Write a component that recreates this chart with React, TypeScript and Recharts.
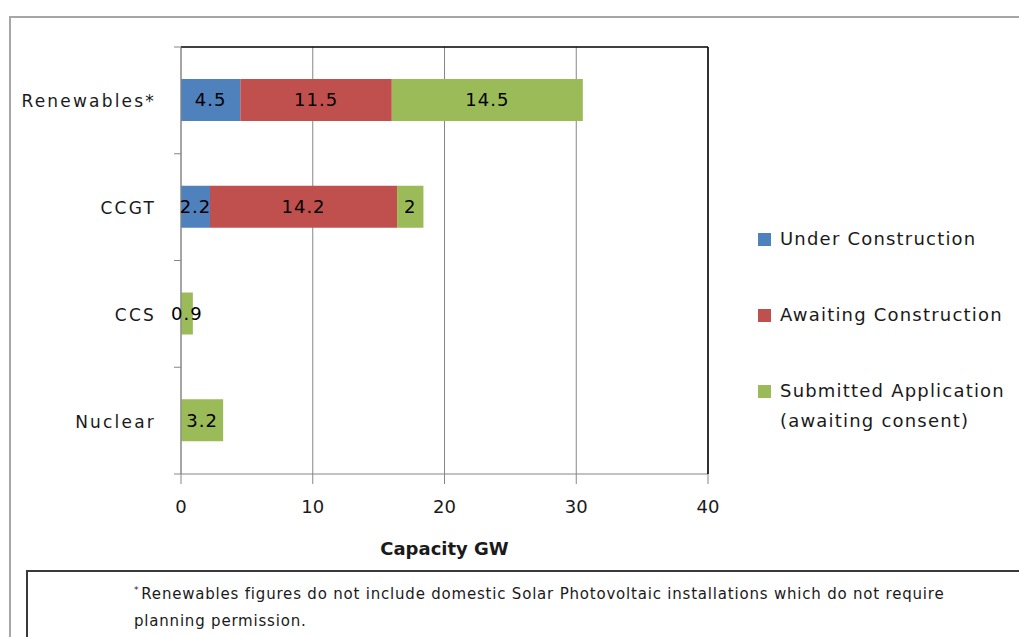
import React from 'react';
import { BarChart, Bar, XAxis, YAxis, CartesianGrid, LabelList } from 'recharts';

// values (GW)
const categories = ['Renewables*', 'CCGT', 'CCS', 'Nuclear'];
const underConstruction = [4.5, 2.2, 0, 0];
const awaitingConstruction = [11.5, 14.2, 0, 0];
const submittedApplication = [14.5, 2, 0.9, 3.2];
const xTicks = [0, 10, 20, 30, 40];

const seriesKeys = ['under', 'awaiting', 'submitted'];
const seriesColors = ['#4F81BD', '#C0504D', '#9BBB59'];
const seriesLabels = [['Under Construction'], ['Awaiting Construction'], ['Submitted Application', '(awaiting consent)']];
const footnote = [
  'Renewables figures do not include domestic Solar Photovoltaic installations which do not require',
  'planning permission.',
];

const data = categories.map((name, i) => ({
  name,
  under: underConstruction[i],
  awaiting: awaitingConstruction[i],
  submitted: submittedApplication[i],
}));

const FONT = '"DejaVu Sans", sans-serif';
const TEXT = '#1a1a1a';
const PLOT_TOP = 47;
const PLOT_BOTTOM = 474;
const BAND_HALF = (PLOT_BOTTOM - PLOT_TOP) / categories.length / 2;

function CategoryTick(props: any) {
  const { x, y, payload, index } = props;
  return (
    <g>
      <line x1={x - 7} x2={x} y1={y - BAND_HALF} y2={y - BAND_HALF} stroke="#868686" />
      {index === categories.length - 1 && (
        <line x1={x - 7} x2={x} y1={y + BAND_HALF} y2={y + BAND_HALF} stroke="#868686" />
      )}
      <text
        x={x - 25}
        y={y + 1}
        textAnchor="end"
        dominantBaseline="central"
        fontFamily={FONT}
        fontSize={17}
        letterSpacing={2.2}
        fill={TEXT}
      >
        {payload.value}
      </text>
    </g>
  );
}

const hideZero = (v: any) => (v ? v : '');

export default function App() {
  return (
    <div style={{ position: 'absolute', left: 0, top: 0, width: 1019, height: 637, background: '#fff', overflow: 'hidden' }}>
      <div
        style={{
          position: 'absolute', left: 9, top: 16, width: 1100, height: 700,
          borderTop: '2px solid #a6a6a6', borderLeft: '2px solid #a6a6a6',
        }}
      />
      <div style={{ position: 'absolute', left: 0, top: 0 }}>
        <BarChart
          width={1019}
          height={637}
          layout="vertical"
          data={data}
          margin={{ top: PLOT_TOP - 1, right: 310, bottom: 83, left: 21 }}
        >
          <CartesianGrid horizontal={false} stroke="#868686" />
          <XAxis
            type="number"
            domain={[0, 40]}
            ticks={xTicks}
            height={80}
            tickSize={10}
            tickMargin={16}
            stroke="#868686"
            tick={{ fill: TEXT, fontFamily: FONT, fontSize: 18 }}
            label={(p: any) => (
              <text
                x={p.viewBox.x + p.viewBox.width / 2}
                y={p.viewBox.y + 74}
                textAnchor="middle"
                dominantBaseline="central"
                fontFamily={FONT}
                fontSize={18}
                fontWeight="bold"
                fill={TEXT}
              >
                Capacity GW
              </text>
            )}
          />
          <XAxis
            xAxisId="top"
            orientation="top"
            type="number"
            domain={[0, 40]}
            height={1}
            tick={false}
            tickLine={false}
            axisLine={{ stroke: '#000', strokeWidth: 1.5 }}
          />
          <YAxis
            type="category"
            dataKey="name"
            width={160}
            tickSize={0}
            tickMargin={0}
            tickLine={false}
            stroke="#868686"
            tick={<CategoryTick />}
          />
          <YAxis
            yAxisId="right"
            orientation="right"
            type="category"
            dataKey="name"
            width={1}
            tick={false}
            tickLine={false}
            axisLine={{ stroke: '#000', strokeWidth: 1.5 }}
          />
          {seriesKeys.map((k, i) => (
            <Bar key={k} dataKey={k} stackId="a" fill={seriesColors[i]} barSize={42} isAnimationActive={false}>
              <LabelList
                dataKey={k}
                position="center"
                formatter={hideZero}
                fill="#000"
                fontFamily={FONT}
                fontSize={18}
                letterSpacing={1}
              />
            </Bar>
          ))}
        </BarChart>
      </div>
      {seriesLabels.map((lines, i) => (
        <div key={i} style={{ position: 'absolute', left: 758, top: 224 + i * 76, fontFamily: FONT, fontSize: 18, color: TEXT, lineHeight: '30px' }}>
          <span style={{ position: 'absolute', left: 0, top: 9, width: 13, height: 13, background: seriesColors[i] }} />
          {lines.map((t, j) => (
            <div key={j} style={{ marginLeft: 22, whiteSpace: 'nowrap', letterSpacing: 1.2 }}>{t}</div>
          ))}
        </div>
      ))}
      <div
        style={{
          position: 'absolute', left: 26, top: 570, width: 1100, height: 100,
          border: '2px solid #3a3a3a', boxSizing: 'border-box',
        }}
      />
      <div style={{ position: 'absolute', left: 134, top: 577, fontFamily: FONT, fontSize: 15, letterSpacing: 0.8, lineHeight: '27px', color: TEXT }}>
        {footnote.map((t, j) => (
          <div key={j} style={{ whiteSpace: 'nowrap' }}>
            {j === 0 && <sup style={{ fontSize: 9, marginRight: 2 }}>*</sup>}
            {t}
          </div>
        ))}
      </div>
    </div>
  );
}
